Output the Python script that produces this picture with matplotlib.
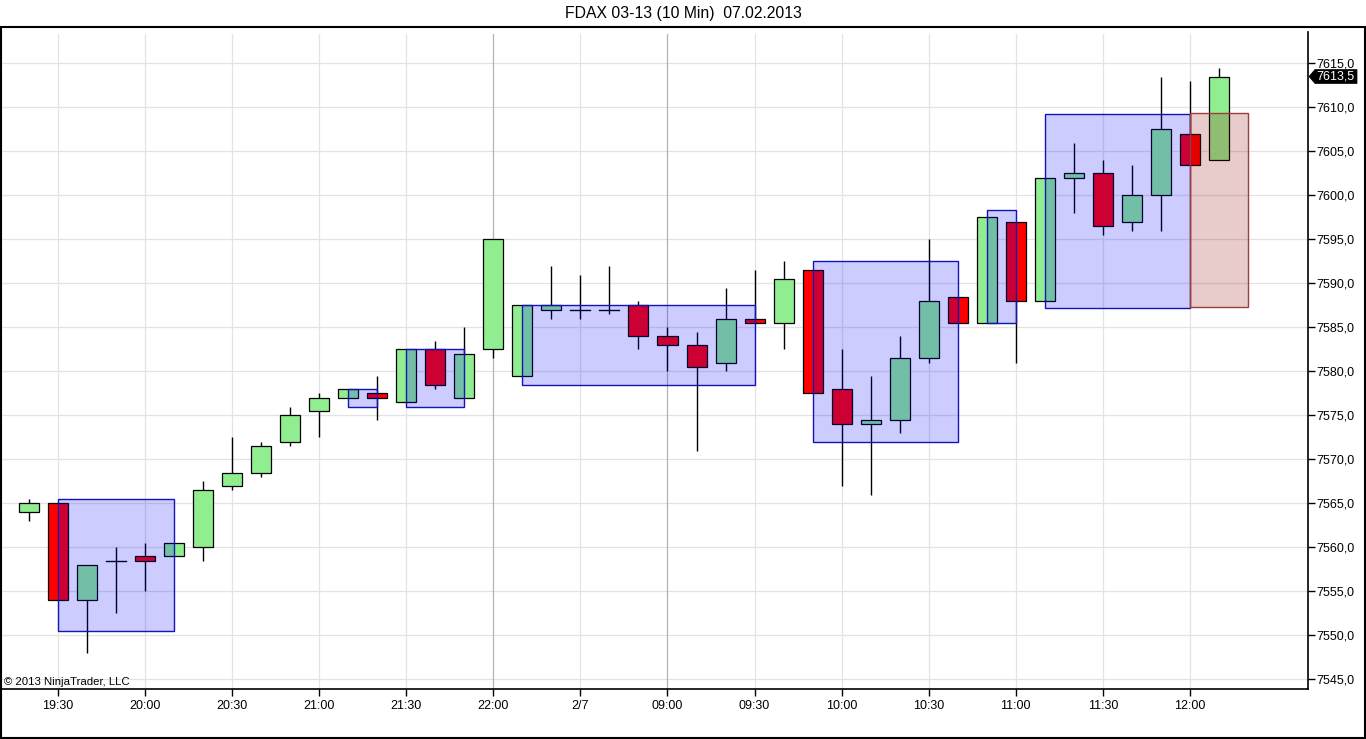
import matplotlib
matplotlib.use("Agg")
import matplotlib.pyplot as plt
from matplotlib.patches import Rectangle, Polygon
from matplotlib.transforms import ScaledTranslation
import numpy as np

plt.rcParams['font.family'] = ['Liberation Sans', 'DejaVu Sans']

# ---- data (10-min bars, index 0 = 19:20) ----
opens = [7564.0, 7565.0, 7554.0, 7558.5, 7559.0, 7559.0, 7560.0, 7567.0, 7568.5, 7572.0,
         7575.5, 7577.0, 7577.5, 7576.5, 7582.5, 7577.0, 7582.5, 7579.5, 7587.0, 7587.0,
         7587.0, 7587.5, 7584.0, 7583.0, 7581.0, 7586.0, 7585.5, 7591.5, 7578.0, 7574.0,
         7574.5, 7581.5, 7588.5, 7585.5, 7597.0, 7588.0, 7602.0, 7602.5, 7597.0, 7600.0,
         7607.0, 7604.0]
closes = [7565.0, 7554.0, 7558.0, 7558.5, 7558.5, 7560.5, 7566.5, 7568.5, 7571.5, 7575.0,
          7577.0, 7578.0, 7577.0, 7582.5, 7578.5, 7582.0, 7595.0, 7587.5, 7587.5, 7587.0,
          7587.0, 7584.0, 7583.0, 7580.5, 7586.0, 7585.5, 7590.5, 7577.5, 7574.0, 7574.5,
          7581.5, 7588.0, 7585.5, 7597.5, 7588.0, 7602.0, 7602.5, 7596.5, 7600.0, 7607.5,
          7603.5, 7613.5]
highs = [7565.5, 7565.0, 7558.0, 7560.0, 7560.5, 7560.5, 7567.5, 7572.5, 7572.0, 7576.0,
         7577.5, 7578.0, 7579.5, 7582.5, 7583.5, 7585.0, 7595.0, 7587.5, 7592.0, 7591.0,
         7592.0, 7588.0, 7585.0, 7584.5, 7589.5, 7591.5, 7592.5, 7591.5, 7582.5, 7579.5,
         7584.0, 7595.0, 7588.5, 7597.5, 7597.0, 7602.0, 7606.0, 7604.0, 7603.5, 7613.5,
         7613.0, 7614.5]
lows = [7563.0, 7554.0, 7548.0, 7552.5, 7555.0, 7559.0, 7558.5, 7566.5, 7568.0, 7571.5,
        7572.5, 7577.0, 7574.5, 7576.5, 7578.0, 7577.0, 7581.5, 7579.5, 7586.0, 7586.0,
        7586.5, 7582.5, 7580.0, 7571.0, 7580.0, 7585.5, 7582.5, 7577.5, 7567.0, 7566.0,
        7573.0, 7581.0, 7585.5, 7585.5, 7581.0, 7588.0, 7598.0, 7595.5, 7596.0, 7596.0,
        7603.5, 7604.0]

# consolidation boxes: start bar, end bar, low, high
box_start = [1, 11, 13, 17, 27, 33, 35]
box_end = [5, 12, 15, 25, 32, 34, 40]
box_low = [7550.5, 7576.0, 7576.0, 7578.5, 7572.0, 7585.5, 7587.25]
box_high = [7565.5, 7578.0, 7582.5, 7587.5, 7592.5, 7598.3, 7609.25]
# active (projected) box
act_start, act_end, act_low, act_high = 40, 42, 7587.3, 7609.3

tick_pos = [1, 4, 7, 10, 13, 16, 19, 22, 25, 28, 31, 34, 37, 40]
tick_labels = ['19:30', '20:00', '20:30', '21:00', '21:30', '22:00', '2/7',
               '09:00', '09:30', '10:00', '10:30', '11:00', '11:30', '12:00']
session_breaks = [16, 22]

title = 'FDAX 03-13 (10 Min)  07.02.2013'

# ---- figure ----
W, H = 1366, 739
fig = plt.figure(figsize=(W / 100, H / 100), dpi=100)
fig.patch.set_facecolor('white')

ax_l, ax_r, ax_t, ax_b = 1, 1308, 32, 689
ax = fig.add_axes([ax_l / W, (H - ax_b) / H, (ax_r - ax_l) / W, (ax_b - ax_t) / H])
ax.set_facecolor('white')

ax.set_xlim(-0.9655, 44.07)
ax.set_ylim(7543.9, 7618.56)

# grid
yt = np.arange(7545, 7616, 5)
for v in yt:
    ax.axhline(v, color='#e3e3e3', lw=0.9, zorder=0)
for p in tick_pos:
    c = '#b4b4b4' if p in session_breaks else '#e3e3e3'
    ax.axvline(p, ymax=0.997, color=c, lw=0.9, zorder=0)

# candles
bw = 0.69
for i, (o, h, l, c) in enumerate(zip(opens, highs, lows, closes)):
    top = max(o, c)
    bot = min(o, c)
    if h > top:
        ax.plot([i, i], [top, h], color='black', lw=1.0, zorder=2, solid_capstyle='butt')
    if l < bot:
        ax.plot([i, i], [l, bot], color='black', lw=1.0, zorder=2, solid_capstyle='butt')
    if c == o:
        ax.plot([i - bw / 2, i + bw / 2], [o, o], color='black', lw=1.0, zorder=3)
    else:
        fc = '#90ee90' if c > o else '#ff0000'
        ax.add_patch(Rectangle((i - bw / 2, bot), bw, top - bot, facecolor=fc,
                               edgecolor='black', lw=0.9, zorder=3))

# boxes
for s, e, lo, hi in zip(box_start, box_end, box_low, box_high):
    ax.add_patch(Rectangle((s, lo), e - s, hi - lo, facecolor=(0, 0, 1, 0.2),
                           edgecolor='#1414b4', lw=1.0, zorder=4))
ax.add_patch(Rectangle((act_start, act_low), act_end - act_start, act_high - act_low,
                       facecolor=(0.55, 0, 0, 0.2), edgecolor='#a03c3c', lw=1.0, zorder=4))

# axes styling
for s in ['top', 'left']:
    ax.spines[s].set_visible(False)
ax.spines['right'].set_linewidth(1.2)
ax.spines['bottom'].set_linewidth(1.2)
ax.yaxis.tick_right()
ax.set_yticks(yt)
ax.set_yticklabels([f'{v:.1f}'.replace('.', ',') for v in yt])
ax.set_xticks(tick_pos)
ax.set_xticklabels(tick_labels)
ax.tick_params(axis='y', direction='out', length=5, width=1, pad=1, labelsize=9,
               colors='black')
ax.tick_params(axis='x', direction='out', length=5, width=1, pad=3, labelsize=9,
               colors='black')

# last price marker (arrow-shaped black tag)
last = closes[-1]
tag_trans = fig.dpi_scale_trans + ScaledTranslation(1.0, last, ax.get_yaxis_transform())
tag_verts = np.array([[1, 0], [7, 7], [49, 7], [49, -7], [7, -7]]) / 100.0
ax.add_patch(Polygon(tag_verts, closed=True, facecolor='black', edgecolor='black',
                     lw=0.5, transform=tag_trans, clip_on=False, zorder=10))
ax.text(0.08, 0.0, f'{last:.1f}'.replace('.', ','), transform=tag_trans,
        color='white', fontsize=9, ha='left', va='center', clip_on=False, zorder=11)

# copyright
ax.text(0.0022, 0.003, '\u00a9 2013 NinjaTrader, LLC', transform=ax.transAxes,
        fontsize=8.2, ha='left', va='bottom', color='black', zorder=6)

# title
fig.text(0.5, 1 - 13.5 / H, title, ha='center', va='center', fontsize=11.3)

# outer frame
fig.add_artist(Rectangle((1 / W, 1 / H), (1365 - 1) / W, (738 - 27) / H,
                         transform=fig.transFigure, fill=False, edgecolor='black',
                         lw=1.5))

fig.savefig('out.png', dpi=100)
